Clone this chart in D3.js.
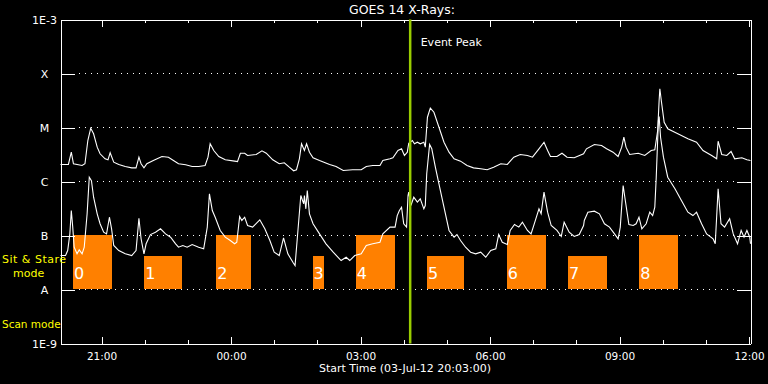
<!DOCTYPE html>
<html>
<head>
<meta charset="utf-8">
<script src="https://cdn.jsdelivr.net/npm/d3@7"></script>
<style>
body { margin: 0; background: #000; }
svg { display: block; }
text { font-family: "DejaVu Sans", sans-serif; fill: #fff; }
</style>
</head>
<body>
<div id="chart"></div>
<script>
// GOES 14 long channel (1-8 A), minutes after start time
const longMinutes = [
	0, 11, 15, 18, 30, 34, 38, 42, 46, 51,
	55, 62, 66, 69, 74, 81, 90, 99, 105, 109,
	112, 116, 120, 129, 141, 150, 157, 164, 174, 183,
	192, 201, 205, 208, 213, 220, 229, 242, 246, 250,
	256, 260, 272, 280, 286, 295, 304, 311, 318, 324,
	328, 332, 335, 339, 342, 346, 351, 360, 374, 383,
	393, 406, 418, 425, 434, 444, 448, 458, 462, 469,
	474, 478, 482, 484, 489, 492, 496, 500, 505, 507,
	510, 514, 519, 526, 533, 540, 547, 556, 565, 574,
	584, 593, 602, 612, 621, 630, 639, 649, 656, 665,
	672, 677, 681, 690, 697, 704, 714, 727, 731, 742,
	752, 759, 768, 775, 780, 783, 786, 791, 803, 812,
	821, 826, 830, 832, 833, 835, 839, 844, 858, 872,
	884, 893, 905, 912, 914, 919, 926, 932, 937, 947,
	954, 959
];
const longFlux = [
	2.07e-6, 2.07e-6, 3.49e-6, 2.13e-6, 1.98e-6, 2.13e-6, 5.74e-6, 9.7e-6, 7.65e-6, 4.32e-6,
	3.26e-6, 2.63e-6, 2.52e-6, 3.4e-6, 2.28e-6, 2.07e-6, 1.9e-6, 1.79e-6, 1.79e-6, 2.82e-6,
	2.13e-6, 1.79e-6, 2.13e-6, 2.45e-6, 2.9e-6, 2.82e-6, 2.45e-6, 2.13e-6, 2.04e-6, 1.9e-6,
	1.9e-6, 1.98e-6, 2.82e-6, 4.99e-6, 3.75e-6, 2.9e-6, 2.52e-6, 2.38e-6, 2.34e-6, 3.34e-6,
	3.34e-6, 3.03e-6, 3.16e-6, 3.7e-6, 3.34e-6, 2.52e-6, 2.13e-6, 2.22e-6, 1.84e-6, 1.58e-6,
	1.65e-6, 2.63e-6, 4.99e-6, 3.75e-6, 4.99e-6, 3.49e-6, 2.75e-6, 2.45e-6, 2.07e-6, 1.9e-6,
	1.6e-6, 1.65e-6, 1.65e-6, 1.9e-6, 1.98e-6, 1.98e-6, 2.45e-6, 2.63e-6, 2.75e-6, 3.75e-6,
	4.03e-6, 3.03e-6, 3.49e-6, 5.12e-6, 5.74e-6, 4.99e-6, 5.34e-6, 4.99e-6, 5.34e-6, 4.32e-6,
	1.55e-5, 2.28e-5, 1.92e-5, 1.01e-5, 5.34e-6, 3.49e-6, 2.63e-6, 2.38e-6, 1.98e-6, 1.79e-6,
	1.72e-6, 1.65e-6, 1.84e-6, 2.13e-6, 2.07e-6, 2.82e-6, 3.16e-6, 3.03e-6, 2.82e-6, 4.03e-6,
	5.34e-6, 3.75e-6, 2.9e-6, 2.9e-6, 3.34e-6, 2.82e-6, 2.75e-6, 3.26e-6, 4.03e-6, 4.84e-6,
	4.64e-6, 4.03e-6, 3.49e-6, 2.9e-6, 4.32e-6, 6.61e-6, 4.32e-6, 3.16e-6, 3.34e-6, 3.03e-6,
	3.75e-6, 3.86e-6, 8.8e-6, 3.16e-5, 5.21e-5, 3.16e-5, 1.25e-5, 9.46e-6, 7.65e-6, 6.18e-6,
	5.34e-6, 3.75e-6, 3.03e-6, 2.63e-6, 5.57e-6, 3.16e-6, 3.03e-6, 3.59e-6, 2.63e-6, 2.75e-6,
	2.52e-6, 2.45e-6
];

// GOES 14 short channel (0.5-4 A)
const shortMinutes = [
	0, 7, 10, 13, 15, 17, 19, 23, 26, 30,
	33, 37, 40, 43, 46, 51, 55, 60, 64, 68,
	71, 74, 81, 90, 99, 105, 109, 112, 116, 119,
	125, 132, 139, 146, 153, 160, 164, 170, 176, 183,
	192, 199, 204, 207, 211, 215, 222, 229, 236, 242,
	245, 249, 252, 256, 260, 267, 277, 284, 291, 297,
	304, 310, 316, 323, 326, 330, 334, 338, 339, 341,
	343, 346, 351, 360, 369, 379, 390, 397, 402, 409,
	418, 425, 434, 444, 448, 458, 465, 468, 471, 474,
	477, 481, 483, 484, 487, 491, 496, 500, 505, 507,
	509, 513, 516, 521, 528, 535, 540, 547, 551, 556,
	563, 570, 577, 584, 591, 598, 605, 609, 614, 621,
	625, 631, 637, 642, 649, 654, 660, 665, 668, 672,
	677, 682, 690, 696, 700, 707, 714, 721, 727, 728,
	733, 742, 749, 756, 763, 770, 775, 778, 782, 785,
	790, 796, 800, 804, 808, 814, 819, 823, 826, 828,
	831, 832, 834, 838, 844, 854, 863, 872, 879, 884,
	891, 898, 907, 910, 914, 918, 923, 930, 935, 941,
	946, 950, 954, 958, 959
];
const shortFlux = [
	4.26e-8, 4.26e-8, 5.27e-8, 1.07e-7, 2.9e-7, 1.43e-7, 6.07e-8, 4.58e-8, 5.43e-8, 4.58e-8,
	6.07e-8, 2.52e-7, 1.2e-6, 1.04e-6, 5.12e-7, 2.52e-7, 1.65e-7, 1.15e-7, 1.07e-7, 2.18e-7,
	1.33e-7, 6.53e-8, 5.27e-8, 4.58e-8, 4.26e-8, 5.27e-8, 2.09e-7, 8.69e-8, 4.58e-8, 7.02e-8,
	1.04e-7, 1.15e-7, 1.33e-7, 1.07e-7, 9.3e-8, 7.02e-8, 6.07e-8, 6.53e-8, 6.07e-8, 6.81e-8,
	6.07e-8, 5.67e-8, 1.43e-7, 5.92e-7, 2.9e-7, 2.18e-7, 1.24e-7, 9.3e-8, 8.08e-8, 7.02e-8,
	7.51e-8, 2.25e-7, 1.9e-7, 2.18e-7, 1.53e-7, 1.43e-7, 1.95e-7, 1.33e-7, 8.08e-8, 4.91e-8,
	4.26e-8, 9.06e-8, 4.58e-8, 3.2e-8, 2.78e-8, 1.24e-7, 5.5e-7, 3.86e-7, 5.5e-7, 3.12e-7,
	6.81e-7, 2.52e-7, 1.65e-7, 1.07e-7, 7.02e-8, 4.91e-8, 3.44e-8, 3.96e-8, 3.44e-8, 4.26e-8,
	4.58e-8, 6.53e-8, 7.02e-8, 7.51e-8, 1.07e-7, 1.43e-7, 1.43e-7, 2.34e-7, 2.9e-7, 3.34e-7,
	1.65e-7, 1.43e-7, 5.5e-7, 6.34e-7, 3.59e-7, 5.12e-7, 4.14e-7, 4.78e-7, 3.12e-7, 3.59e-7,
	1.39e-6, 4.84e-6, 4.04e-6, 1.84e-6, 6.81e-7, 2.52e-7, 1.24e-7, 9.3e-8, 1.04e-7, 8.08e-8,
	6.07e-8, 4.91e-8, 4.58e-8, 4.91e-8, 3.96e-8, 5.27e-8, 5.67e-8, 1.04e-7, 7.51e-8, 6.81e-8,
	1.24e-7, 1.6e-7, 1.43e-7, 1.76e-7, 1.24e-7, 1.07e-7, 1.9e-7, 3.12e-7, 2.52e-7, 6.34e-7,
	2.7e-7, 1.53e-7, 1.24e-7, 9.6e-8, 1.76e-7, 1.15e-7, 9.6e-8, 1.04e-7, 1.53e-7, 1.9e-7,
	2.7e-7, 2.82e-7, 2.52e-7, 1.65e-7, 1.43e-7, 1.07e-7, 8.69e-8, 1.43e-7, 8.43e-7, 4.45e-7,
	1.6e-7, 1.53e-7, 1.65e-7, 2.18e-7, 1.33e-7, 1.65e-7, 2.7e-7, 2.34e-7, 3.34e-7, 1.2e-6,
	1.35e-5, 1.6e-5, 6.61e-6, 2.82e-6, 1.2e-6, 7.33e-7, 4.45e-7, 2.7e-7, 2.34e-7, 2.7e-7,
	1.65e-7, 1.07e-7, 8.69e-8, 7.02e-8, 7.33e-7, 1.65e-7, 1.43e-7, 2.04e-7, 1.07e-7, 7.02e-8,
	1.24e-7, 9.3e-8, 1.24e-7, 9.3e-8, 7.02e-8
];

// observation windows (minutes after start), top flux of each block
const obsStart = [18, 117, 217, 351, 411, 510, 621, 706, 805];
const obsEnd = [72, 169, 265, 367, 465, 562, 675, 760, 859];
const obsTop = [1e-7, 4e-8, 1e-7, 4e-8, 1e-7, 4e-8, 1e-7, 4e-8, 1e-7];
const obsBase = 1e-8;
const obsLabels = ["0", "1", "2", "3", "4", "5", "6", "7", "8"];

const yTicks = [1e-9, 1e-8, 1e-7, 1e-6, 1e-5, 1e-4, 1e-3];
const yLabels = ["1E-9", "A", "B", "C", "M", "X", "1E-3"];
const gridLevels = [1e-8, 1e-7, 1e-6, 1e-5, 1e-4];
const eventPeak = 486;
const endMinute = 959;

const startTime = Date.UTC(2012, 6, 3, 20, 3);
const toDate = (m) => new Date(startTime + m * 60000);

const width = 768, height = 384;
const x0 = 60, x1 = 750, y0 = 19, y1 = 343;

const svg = d3
	.select("#chart")
	.append("svg")
	.attr("width", width)
	.attr("height", height);

svg.append("rect").attr("width", width).attr("height", height).attr("fill", "#000");

const x = d3.scaleUtc().domain([toDate(0), toDate(endMinute)]).range([x0, x1]);
const y = d3.scaleLog().domain([1e-9, 1e-3]).range([y1, y0]);

const g = svg.append("g").attr("transform", "translate(0.5,0.5)");

// dotted level lines
g.selectAll(".grid")
	.data(gridLevels)
	.enter()
	.append("line")
	.attr("x1", x0 + 18)
	.attr("x2", x1 - 14)
	.attr("y1", (d) => y(d))
	.attr("y2", (d) => y(d))
	.attr("stroke", "#fff")
	.attr("stroke-dasharray", "1,5")
	.attr("shape-rendering", "crispEdges");

// observation blocks
g.selectAll(".obs")
	.data(obsStart)
	.enter()
	.append("rect")
	.attr("x", (d) => x(toDate(d)) - 0.5)
	.attr("y", (d, i) => y(obsTop[i]) - 0.5)
	.attr("width", (d, i) => x(toDate(obsEnd[i])) - x(toDate(d)))
	.attr("height", (d, i) => y(obsBase) - y(obsTop[i]))
	.attr("fill", "#ff8000")
	.attr("shape-rendering", "crispEdges");

g.selectAll(".obsLabel")
	.data(obsStart)
	.enter()
	.append("text")
	.attr("x", (d) => x(toDate(d)) + 0.5)
	.attr("y", 278)
	.style("font-size", "16px")
	.text((d, i) => obsLabels[i]);

// light curves
const line = d3
	.line()
	.x((d) => x(toDate(d[0])))
	.y((d) => y(d[1]));

[d3.zip(longMinutes, longFlux), d3.zip(shortMinutes, shortFlux)].forEach((series) => {
	g.append("path")
		.datum(series)
		.attr("d", line)
		.attr("fill", "none")
		.attr("stroke", "#fff")
		.attr("stroke-width", 1.1);
});

// axes
const styleAxis = (sel) => {
	sel.attr("color", "#fff").style("font-family", "DejaVu Sans, sans-serif").style("font-size", "10.5px");
	sel.selectAll("path, line").attr("shape-rendering", "crispEdges");
};

g.append("g")
	.attr("transform", `translate(0,${y1})`)
	.call(d3.axisBottom(x).ticks(d3.utcHour.every(1)).tickSize(-3.5).tickSizeOuter(0).tickFormat(""))
	.call(styleAxis);
g.append("g")
	.attr("transform", `translate(0,${y1})`)
	.call(d3.axisBottom(x).ticks(d3.utcHour.every(3)).tickSize(-7).tickSizeOuter(0).tickPadding(9).tickFormat(d3.utcFormat("%H:%M")))
	.call(styleAxis);
g.append("g")
	.attr("transform", `translate(0,${y0})`)
	.call(d3.axisTop(x).ticks(d3.utcHour.every(1)).tickSize(-3.5).tickSizeOuter(0).tickFormat(""))
	.call(styleAxis);
g.append("g")
	.attr("transform", `translate(0,${y0})`)
	.call(d3.axisTop(x).ticks(d3.utcHour.every(3)).tickSize(-7).tickSizeOuter(0).tickFormat(""))
	.call(styleAxis);

const yLeft = g.append("g")
	.attr("transform", `translate(${x0},0)`)
	.call(d3.axisLeft(y).tickValues(yTicks).tickSize(-14).tickSizeOuter(0).tickFormat((d, i) => yLabels[i]))
	.call(styleAxis);
yLeft.selectAll("text").attr("text-anchor", "middle").attr("x", -16).style("font-size", "11px");

g.append("g")
	.attr("transform", `translate(${x1},0)`)
	.call(d3.axisRight(y).tickValues(yTicks).tickSize(-14).tickSizeOuter(0).tickFormat(""))
	.call(styleAxis);

// event peak marker
g.append("line")
	.attr("x1", x(toDate(eventPeak)))
	.attr("x2", x(toDate(eventPeak)))
	.attr("y1", y0)
	.attr("y2", y1)
	.attr("stroke", "#99cc00")
	.attr("stroke-width", 2.5);

svg.append("text")
	.attr("x", x(toDate(eventPeak)) + 11)
	.attr("y", 46)
	.style("font-size", "11px")
	.text("Event Peak");

// titles
svg.append("text")
	.attr("x", 402)
	.attr("y", 13.5)
	.attr("text-anchor", "middle")
	.style("font-size", "12.5px")
	.text("GOES 14 X-Rays:");

svg.append("text")
	.attr("x", (x0 + x1) / 2)
	.attr("y", 372)
	.attr("text-anchor", "middle")
	.style("font-size", "11px")
	.text(d3.utcFormat("Start Time (%d-%b-%y %H:%M:%S)")(toDate(0)));

// mode labels
const modeLabels = [
	{ text: "Sit & Stare", x: 2, y: 263, size: 11, spacing: 0.5 },
	{ text: "mode", x: 13, y: 276.5, size: 11, spacing: 0 },
	{ text: "Scan mode", x: 2, y: 328, size: 10.5, spacing: 0 },
];
svg.selectAll(".mode")
	.data(modeLabels)
	.enter()
	.append("text")
	.attr("x", (d) => d.x)
	.attr("y", (d) => d.y)
	.style("font-size", (d) => `${d.size}px`)
	.style("letter-spacing", (d) => `${d.spacing}px`)
	.style("fill", "#ffff00")
	.text((d) => d.text);
</script>
</body>
</html>
